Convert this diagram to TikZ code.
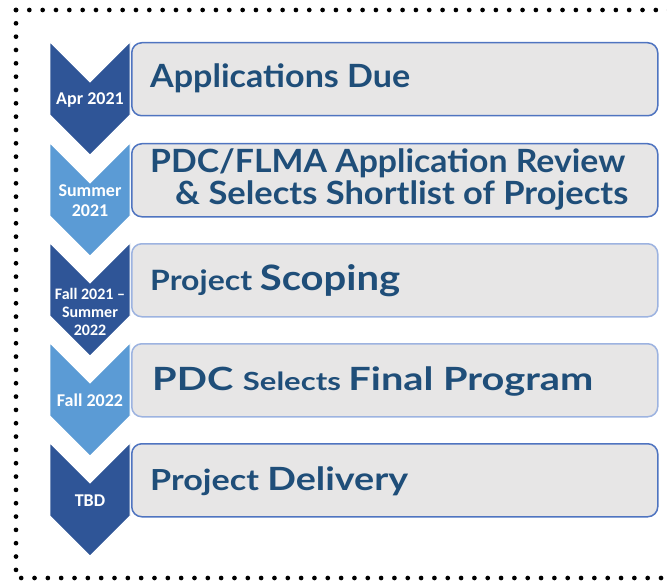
\documentclass[tikz,border=0pt]{standalone}
\usepackage{fontspec}
\usepackage{graphicx}
\newfontfamily\titlefont{Lato}
\newfontfamily\labfont{Carlito}
\definecolor{chevdark}{HTML}{2F5597}
\definecolor{chevlight}{HTML}{5B9BD5}
\definecolor{boxfill}{HTML}{E7E6E6}
\definecolor{bordermid}{HTML}{4F74C0}
\definecolor{borderlight}{HTML}{9DB3E0}
\definecolor{titleblue}{HTML}{1F4E79}
\newcommand{\fitw}[2]{\resizebox{#1}{\height}{#2}}
\tikzset{
  chev/.style={draw=white, line width=0.8pt},
  stagebox/.style={fill=boxfill, rounded corners=10pt, line width=1.5pt,
    minimum width=526pt, minimum height=73pt, anchor=north west, inner sep=0pt},
  ttl/.style={text=titleblue, font=\titlefont\bfseries, anchor=base west, inner sep=0pt},
  lab/.style={text=white, font=\labfont\bfseries\fontsize{18}{20}\selectfont, inner sep=0pt, align=center},
  labsmall/.style={lab, font=\labfont\bfseries\fontsize{16}{18}\selectfont},
  dotborder/.style={line width=4.7pt, line cap=round, dash pattern=on 0pt off 13.33pt}
}
\begin{document}
\begin{tikzpicture}[x=1pt,y=-1pt]
\useasboundingbox (0,0) rectangle (667,583);
% dotted frame
\draw[dotborder] (16,10) coordinate (fc1) -- (690,10) coordinate (fc2);
\draw[dotborder] (fc1) -- (16,578) coordinate (fc3) -- (690,578) coordinate (fc4);
% chevrons
\foreach \y/\c/\n in {42/chevdark/1, 143/chevlight/2, 243/chevdark/3, 343/chevlight/4, 443/chevdark/5}{
  \path[chev, fill=\c] (50,\y) coordinate (ch\n a) -- (90,\y+40) -- (130,\y) -- (130,\y+73)
     -- (90,\y+113) coordinate (ch\n tip) -- (50,\y+73) -- cycle;
}
% boxes
\node[stagebox, draw=bordermid] (b1) at (131,42) {};
\node[stagebox, draw=bordermid] (b2) at (131,143) {};
\node[stagebox, draw=borderlight] (b3) at (131,243) {};
\node[stagebox, draw=borderlight] (b4) at (131,343) {};
\node[stagebox, draw=bordermid] (b5) at (131,443) {};
% titles
\node[ttl] (t1) at (150,88) {\fitw{260pt}{\fontsize{32}{38}\selectfont Applications Due}};
\node[ttl] (t2a) at (150,173) {\fitw{475pt}{\fontsize{32}{38}\selectfont PDC/FLMA Application Review}};
\node[ttl] (t2b) at (175,205) {\fitw{453pt}{\fontsize{32}{38}\selectfont \& Selects Shortlist of Projects}};
\node[ttl] (t3) at (150,290) {\fitw{250pt}{\fontsize{28}{34}\selectfont Project \fontsize{35}{40}\selectfont Scoping}};
\node[ttl] (t4) at (152,390) {\fitw{441pt}{\fontsize{32}{36}\selectfont PDC \fontsize{25}{30}\selectfont Selects \fontsize{32}{36}\selectfont Final Program}};
\node[ttl] (t5) at (150,490) {\fitw{258pt}{\fontsize{29}{34}\selectfont Project \fontsize{32}{38}\selectfont Delivery}};
% labels
\node[lab, anchor=base] (l1) at (90,105) {Apr 2021};
\node[lab] (l2) at (90,201) {Summer\\2021};
\node[labsmall] (l3) at (90,311.5) {Fall 2021 –\\Summer\\2022};
\node[lab, anchor=base] (l4) at (90,406) {Fall 2022};
\node[lab, anchor=base] (l5) at (90,506) {TBD};
\end{tikzpicture}
\end{document}
